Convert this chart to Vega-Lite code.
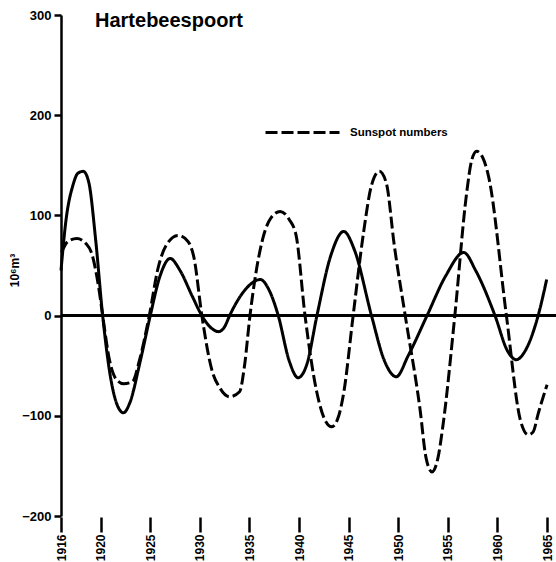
{
  "$schema": "https://vega.github.io/schema/vega-lite/v6.json",
  "width": 495,
  "height": 501,
  "autosize": {"type": "none"},
  "padding": {"left": 61, "top": 15, "right": 0, "bottom": 46},
  "background": "white",
  "config": {
    "view": {"stroke": null},
    "axis": {"grid": false, "labelColor": "black", "titleColor": "black"}
  },
  "title": {
    "text": "Hartebeespoort",
    "anchor": "start",
    "frame": "group",
    "dx": 34,
    "dy": 25,
    "offset": -13,
    "baseline": "alphabetic",
    "font": "Liberation Sans",
    "fontSize": 20,
    "fontWeight": "bold",
    "color": "black"
  },
  "data": {
    "values": [
      {"series": "Hartebeespoort", "year": 1916.0, "value": 45},
      {"series": "Hartebeespoort", "year": 1916.5, "value": 95},
      {"series": "Hartebeespoort", "year": 1917.2, "value": 130},
      {"series": "Hartebeespoort", "year": 1917.7, "value": 142},
      {"series": "Hartebeespoort", "year": 1918.25, "value": 144},
      {"series": "Hartebeespoort", "year": 1918.8, "value": 133},
      {"series": "Hartebeespoort", "year": 1919.5, "value": 75},
      {"series": "Hartebeespoort", "year": 1920.2, "value": 0},
      {"series": "Hartebeespoort", "year": 1921.0, "value": -62},
      {"series": "Hartebeespoort", "year": 1921.7, "value": -90},
      {"series": "Hartebeespoort", "year": 1922.3, "value": -97},
      {"series": "Hartebeespoort", "year": 1922.9, "value": -88},
      {"series": "Hartebeespoort", "year": 1924.0, "value": -45},
      {"series": "Hartebeespoort", "year": 1925.0, "value": 0},
      {"series": "Hartebeespoort", "year": 1926.0, "value": 40},
      {"series": "Hartebeespoort", "year": 1927.0, "value": 57},
      {"series": "Hartebeespoort", "year": 1928.0, "value": 45},
      {"series": "Hartebeespoort", "year": 1929.2, "value": 20},
      {"series": "Hartebeespoort", "year": 1930.2, "value": 0},
      {"series": "Hartebeespoort", "year": 1931.0, "value": -11},
      {"series": "Hartebeespoort", "year": 1931.9, "value": -16},
      {"series": "Hartebeespoort", "year": 1932.5, "value": -11},
      {"series": "Hartebeespoort", "year": 1933.0, "value": 0},
      {"series": "Hartebeespoort", "year": 1934.5, "value": 25},
      {"series": "Hartebeespoort", "year": 1936.1, "value": 36},
      {"series": "Hartebeespoort", "year": 1937.0, "value": 25},
      {"series": "Hartebeespoort", "year": 1937.9, "value": 0},
      {"series": "Hartebeespoort", "year": 1939.0, "value": -45},
      {"series": "Hartebeespoort", "year": 1939.9, "value": -62},
      {"series": "Hartebeespoort", "year": 1940.8, "value": -48},
      {"series": "Hartebeespoort", "year": 1941.8, "value": 0},
      {"series": "Hartebeespoort", "year": 1943.2, "value": 60},
      {"series": "Hartebeespoort", "year": 1944.5, "value": 84},
      {"series": "Hartebeespoort", "year": 1945.6, "value": 65},
      {"series": "Hartebeespoort", "year": 1947.3, "value": 0},
      {"series": "Hartebeespoort", "year": 1948.6, "value": -45},
      {"series": "Hartebeespoort", "year": 1949.8, "value": -61},
      {"series": "Hartebeespoort", "year": 1951.0, "value": -40},
      {"series": "Hartebeespoort", "year": 1952.9, "value": 0},
      {"series": "Hartebeespoort", "year": 1954.8, "value": 40},
      {"series": "Hartebeespoort", "year": 1956.6, "value": 63},
      {"series": "Hartebeespoort", "year": 1957.8, "value": 45},
      {"series": "Hartebeespoort", "year": 1959.75, "value": 0},
      {"series": "Hartebeespoort", "year": 1961.0, "value": -35},
      {"series": "Hartebeespoort", "year": 1961.9, "value": -44},
      {"series": "Hartebeespoort", "year": 1962.8, "value": -35},
      {"series": "Hartebeespoort", "year": 1964.1, "value": 0},
      {"series": "Hartebeespoort", "year": 1964.96, "value": 36},
      {"series": "Sunspot numbers", "year": 1916.05, "value": 63},
      {"series": "Sunspot numbers", "year": 1916.7, "value": 74},
      {"series": "Sunspot numbers", "year": 1917.6, "value": 77},
      {"series": "Sunspot numbers", "year": 1918.5, "value": 72},
      {"series": "Sunspot numbers", "year": 1919.1, "value": 62},
      {"series": "Sunspot numbers", "year": 1919.8, "value": 28},
      {"series": "Sunspot numbers", "year": 1920.2, "value": 0},
      {"series": "Sunspot numbers", "year": 1920.9, "value": -45},
      {"series": "Sunspot numbers", "year": 1921.6, "value": -64},
      {"series": "Sunspot numbers", "year": 1922.3, "value": -68},
      {"series": "Sunspot numbers", "year": 1923.2, "value": -66},
      {"series": "Sunspot numbers", "year": 1923.9, "value": -45},
      {"series": "Sunspot numbers", "year": 1924.9, "value": 0},
      {"series": "Sunspot numbers", "year": 1925.8, "value": 48},
      {"series": "Sunspot numbers", "year": 1926.6, "value": 70},
      {"series": "Sunspot numbers", "year": 1927.8, "value": 80},
      {"series": "Sunspot numbers", "year": 1928.8, "value": 74},
      {"series": "Sunspot numbers", "year": 1929.4, "value": 58},
      {"series": "Sunspot numbers", "year": 1930.2, "value": 0},
      {"series": "Sunspot numbers", "year": 1931.2, "value": -54},
      {"series": "Sunspot numbers", "year": 1932.0, "value": -72},
      {"series": "Sunspot numbers", "year": 1933.0, "value": -81},
      {"series": "Sunspot numbers", "year": 1934.0, "value": -76},
      {"series": "Sunspot numbers", "year": 1934.5, "value": -50},
      {"series": "Sunspot numbers", "year": 1935.05, "value": 0},
      {"series": "Sunspot numbers", "year": 1936.4, "value": 79},
      {"series": "Sunspot numbers", "year": 1937.2, "value": 98},
      {"series": "Sunspot numbers", "year": 1938.1, "value": 104},
      {"series": "Sunspot numbers", "year": 1939.0, "value": 96},
      {"series": "Sunspot numbers", "year": 1939.7, "value": 80},
      {"series": "Sunspot numbers", "year": 1940.6, "value": 0},
      {"series": "Sunspot numbers", "year": 1941.8, "value": -77},
      {"series": "Sunspot numbers", "year": 1942.6, "value": -104},
      {"series": "Sunspot numbers", "year": 1943.3, "value": -111},
      {"series": "Sunspot numbers", "year": 1944.0, "value": -100},
      {"series": "Sunspot numbers", "year": 1944.5, "value": -77},
      {"series": "Sunspot numbers", "year": 1945.45, "value": 0},
      {"series": "Sunspot numbers", "year": 1946.5, "value": 83},
      {"series": "Sunspot numbers", "year": 1947.3, "value": 130},
      {"series": "Sunspot numbers", "year": 1948.1, "value": 144},
      {"series": "Sunspot numbers", "year": 1948.8, "value": 132},
      {"series": "Sunspot numbers", "year": 1949.6, "value": 70},
      {"series": "Sunspot numbers", "year": 1950.7, "value": 0},
      {"series": "Sunspot numbers", "year": 1952.2, "value": -94},
      {"series": "Sunspot numbers", "year": 1952.8, "value": -142},
      {"series": "Sunspot numbers", "year": 1953.4, "value": -156},
      {"series": "Sunspot numbers", "year": 1954.0, "value": -142},
      {"series": "Sunspot numbers", "year": 1954.5, "value": -110},
      {"series": "Sunspot numbers", "year": 1955.7, "value": 0},
      {"series": "Sunspot numbers", "year": 1956.9, "value": 123},
      {"series": "Sunspot numbers", "year": 1957.4, "value": 155},
      {"series": "Sunspot numbers", "year": 1957.9, "value": 164},
      {"series": "Sunspot numbers", "year": 1958.5, "value": 158},
      {"series": "Sunspot numbers", "year": 1959.1, "value": 139},
      {"series": "Sunspot numbers", "year": 1960.9, "value": 0},
      {"series": "Sunspot numbers", "year": 1962.3, "value": -104},
      {"series": "Sunspot numbers", "year": 1963.1, "value": -119},
      {"series": "Sunspot numbers", "year": 1963.6, "value": -116},
      {"series": "Sunspot numbers", "year": 1964.1, "value": -98},
      {"series": "Sunspot numbers", "year": 1965.0, "value": -69}
    ]
  },
  "layer": [
    {
      "mark": {"type": "rule", "color": "black", "strokeWidth": 2.5},
      "encoding": {"y": {"datum": 0, "type": "quantitative"}}
    },
    {
      "mark": {"type": "line", "color": "black", "strokeWidth": 3, "interpolate": "monotone"},
      "encoding": {
        "x": {
          "field": "year",
          "type": "quantitative",
          "scale": {"domain": [1916, 1965.9], "nice": false, "zero": false},
          "axis": {
            "title": null,
            "values": [1916, 1920, 1925, 1930, 1935, 1940, 1945, 1950, 1955, 1960, 1965],
            "format": "d",
            "domain": false,
            "labelAngle": -90,
            "labelAlign": "right",
            "labelBaseline": "middle",
            "labelFont": "Liberation Sans",
            "labelFontWeight": "bold",
            "labelFontSize": 12,
            "labelPadding": 2,
            "tickSize": 15,
            "tickWidth": 2.5,
            "tickColor": "black",
            "offset": 1,
            "labelOverlap": false,
            "labelFlush": false
          }
        },
        "y": {
          "field": "value",
          "type": "quantitative",
          "scale": {"domain": [-200, 300], "nice": false},
          "axis": {
            "title": "10⁶m³",
            "titleFont": "Liberation Sans",
            "titleFontSize": 12,
            "titleFontWeight": "bold",
            "titleX": -40,
            "titleY": 255,
            "titleAngle": -90,
            "values": [-200, -100, 0, 100, 200, 300],
            "domainColor": "black",
            "domainWidth": 2.5,
            "tickColor": "black",
            "tickWidth": 2.5,
            "tickSize": 7,
            "labelFont": "Liberation Sans",
            "labelFontWeight": "bold",
            "labelFontSize": 13,
            "labelPadding": 3,
            "labelFlush": false
          }
        },
        "strokeDash": {
          "field": "series",
          "type": "nominal",
          "scale": {"domain": ["Hartebeespoort", "Sunspot numbers"], "range": [[1, 0], [12, 4]]},
          "legend": {
            "values": ["Sunspot numbers"],
            "title": null,
            "orient": "none",
            "legendX": 203,
            "legendY": 79,
            "symbolType": "stroke",
            "symbolSize": 5476,
            "symbolStrokeWidth": 3,
            "symbolStrokeColor": "black",
            "labelFont": "Liberation Sans",
            "labelFontWeight": "bold",
            "labelFontSize": 11.5,
            "labelColor": "black",
            "labelOffset": 9
          }
        }
      }
    }
  ]
}
